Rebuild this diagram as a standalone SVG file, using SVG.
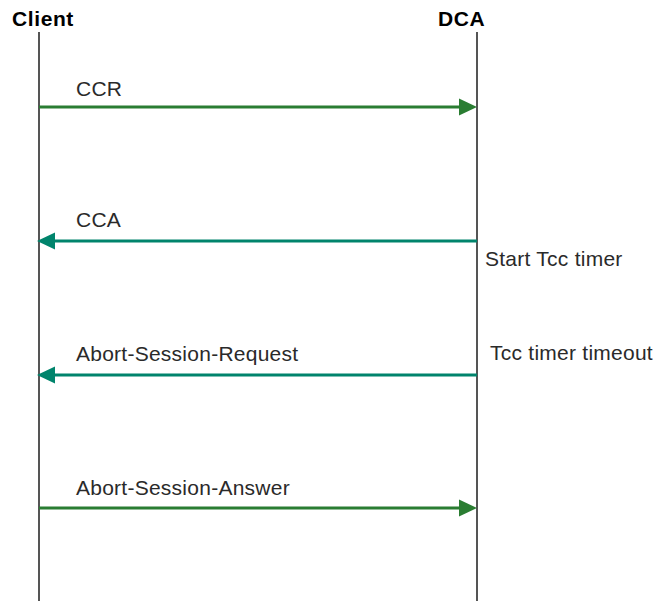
<svg xmlns="http://www.w3.org/2000/svg" width="660" height="601" viewBox="0 0 660 601">
<style>
.hdr{font-family:"Liberation Sans",Arial,sans-serif;font-weight:bold;font-size:21px;letter-spacing:0.6px;fill:#000}
.lbl{font-family:"Liberation Sans",Arial,sans-serif;font-size:21px;letter-spacing:0.25px;fill:#2a2a2a}
.life{stroke:#555;stroke-width:2;fill:none}
.g{stroke:#2a7d32;stroke-width:3;fill:none}
.t{stroke:#00846c;stroke-width:3;fill:none}
</style>
<rect width="660" height="601" fill="#fff"/>
<g id="client">
<text class="hdr" x="12" y="26">Client</text>
<line class="life" x1="39" y1="32" x2="39" y2="601"/>
</g>
<g id="dca">
<text class="hdr" x="438" y="26">DCA</text>
<line class="life" x1="477" y1="32" x2="477" y2="601"/>
</g>
<g id="connectors">
<line class="g" x1="39" y1="107" x2="462" y2="107"/>
<polygon points="477,107 459,98.5 459,115.5" fill="#2a7d32"/>
<text class="lbl" x="76" y="96">CCR</text>
<line class="t" x1="54" y1="241" x2="477" y2="241"/>
<polygon points="37,241 55,232.5 55,249.5" fill="#00846c"/>
<text class="lbl" x="76" y="227">CCA</text>
<line class="t" x1="54" y1="375" x2="477" y2="375"/>
<polygon points="37,375 55,366.5 55,383.5" fill="#00846c"/>
<text class="lbl" x="76" y="361">Abort-Session-Request</text>
<line class="g" x1="39" y1="508" x2="462" y2="508"/>
<polygon points="477,508 459,499.5 459,516.5" fill="#2a7d32"/>
<text class="lbl" x="76" y="495">Abort-Session-Answer</text>
</g>
<g id="notes">
<text class="lbl" x="485" y="266">Start Tcc timer</text>
<text class="lbl" x="490" y="360">Tcc timer timeout</text>
</g>
</svg>
